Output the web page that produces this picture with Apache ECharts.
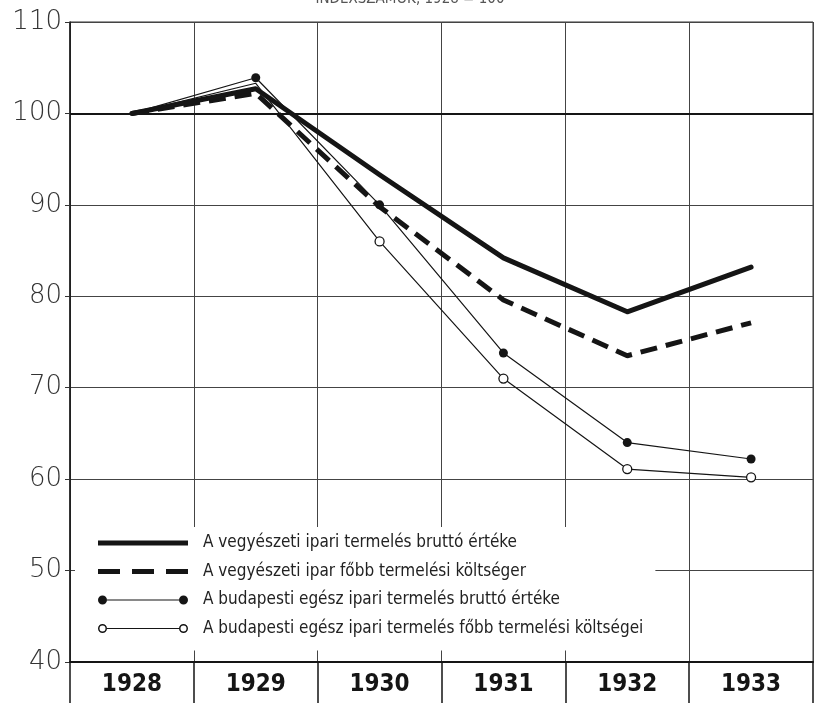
<!DOCTYPE html>
<html>
<head>
<meta charset="utf-8">
<script src="https://cdn.jsdelivr.net/npm/echarts@6/dist/echarts.min.js"></script>
<style>
  html, body { margin: 0; padding: 0; background: #fff; }
  #chart { width: 820px; height: 712px; }
</style>
</head>
<body>
<div id="chart"></div>
<script>
// ---- data ----
const titleText = 'INDEXSZÁMOK, 1928 = 100';
const years = ['1928', '1929', '1930', '1931', '1932', '1933'];
const seriesNames = [
  'A vegyészeti ipari termelés bruttó értéke',
  'A vegyészeti ipar főbb termelési költséger',
  'A budapesti egész ipari termelés bruttó értéke',
  'A budapesti egész ipari termelés főbb termelési költségei'
];
const chemGross = [100, 102.7, 93.3, 84.2, 78.3, 83.2];
const chemCosts = [100, 102.2, 89.8, 79.6, 73.5, 77.1];
const bpGross   = [100, 103.9, 90.0, 73.8, 64.0, 62.2];
const bpCosts   = [100, 103.3, 86.0, 71.0, 61.1, 60.2];
const yTicks = { min: 40, max: 110, step: 10 };

// ---- chart ----
const INK = '#151515';
const narrow = "'Liberation Sans Narrow', 'DejaVu Sans Condensed', sans-serif";

// each legend icon path spans the same 90 x 9 box
const box = 'M0,0 L0.01,0 L0.01,0.01 Z M90,9 L89.99,9 L89.99,8.99 Z ';
const solidIcon = 'path://' + box + 'M0,2 L90,2 L90,7 L0,7 Z';
const dashIcon = 'path://' + box + 'M0,2 L22,2 L22,7 L0,7 Z M34,2 L56,2 L56,7 L34,7 Z M68,2 L90,2 L90,7 L68,7 Z';
const filledIcon = 'path://' + box + 'M0,4.5 A4.5,4.5 0 1,1 9,4.5 A4.5,4.5 0 1,1 0,4.5 Z M9,3.9 L81,3.9 L81,5.1 L9,5.1 Z M81,4.5 A4.5,4.5 0 1,1 90,4.5 A4.5,4.5 0 1,1 81,4.5 Z';
const hollowIcon = 'path://' + box + 'M0,4.5 A4.5,4.5 0 1,1 9,4.5 A4.5,4.5 0 1,1 0,4.5 Z M1.5,4.5 A3,3 0 1,0 7.5,4.5 A3,3 0 1,0 1.5,4.5 Z M9,3.9 L81,3.9 L81,5.1 L9,5.1 Z M81,4.5 A4.5,4.5 0 1,1 90,4.5 A4.5,4.5 0 1,1 81,4.5 Z M82.5,4.5 A3,3 0 1,0 88.5,4.5 A3,3 0 1,0 82.5,4.5 Z';
const iconStyle = { color: INK, borderWidth: 0 };

function markers(arr, firstShown) {
  return arr.map((v, i) => i < firstShown ? { value: v, symbol: 'none' } : v);
}

const chart = echarts.init(document.getElementById('chart'), null, { renderer: 'canvas' });
chart.setOption({
  backgroundColor: '#fff',
  animation: false,
  title: {
    text: titleText,
    left: 'center',
    top: -8,
    padding: 0,
    textStyle: { fontFamily: narrow, fontSize: 15, fontWeight: 'normal', color: '#555' }
  },
  grid: {
    left: 70, right: 7, top: 22, bottom: 50,
    show: true, borderColor: '#333', borderWidth: 1, backgroundColor: 'transparent'
  },
  legend: {
    orient: 'vertical',
    left: 75,
    top: 527,
    padding: [6, 12, 12, 23],
    backgroundColor: '#fff',
    itemWidth: 90,
    itemHeight: 9,
    itemGap: 8.5,
    selectedMode: false,
    textStyle: {
      fontFamily: narrow, fontSize: 17, color: '#222',
      lineHeight: 20, padding: [0, 0, 0, 10]
    },
    data: [
      { name: seriesNames[0], icon: solidIcon, itemStyle: iconStyle },
      { name: seriesNames[1], icon: dashIcon, itemStyle: iconStyle },
      { name: seriesNames[2], icon: filledIcon, itemStyle: iconStyle },
      { name: seriesNames[3], icon: hollowIcon, itemStyle: iconStyle }
    ]
  },
  xAxis: {
    type: 'category',
    data: years,
    boundaryGap: true,
    axisLine: { show: true, lineStyle: { color: INK, width: 2 } },
    axisTick: { show: true, length: 41, lineStyle: { color: INK, width: 1.5 } },
    axisLabel: {
      margin: 11, fontFamily: narrow, fontWeight: 'bold', fontSize: 24, color: INK
    },
    splitLine: { show: true, lineStyle: { color: '#444', width: 1 } }
  },
  yAxis: {
    type: 'value',
    min: yTicks.min, max: yTicks.max, interval: yTicks.step,
    axisLine: { show: true, lineStyle: { color: INK, width: 1.5 } },
    axisTick: { show: true, length: 5, lineStyle: { color: '#333' } },
    axisLabel: {
      margin: 8, fontFamily: "'DejaVu Sans', sans-serif", fontWeight: 200,
      fontSize: 26, color: '#333'
    },
    splitLine: { show: true, lineStyle: { color: '#444', width: 1 } }
  },
  series: [
    {
      name: seriesNames[0], type: 'line', data: chemGross,
      symbol: 'none', z: 5,
      lineStyle: { color: INK, width: 5, cap: 'round', join: 'round' },
      itemStyle: { color: INK },
      markLine: {
        silent: true, symbol: 'none', label: { show: false },
        lineStyle: { color: INK, width: 2, type: 'solid' },
        data: [{ yAxis: 100 }]
      }
    },
    {
      name: seriesNames[1], type: 'line', data: chemCosts,
      symbol: 'none', z: 4,
      lineStyle: { color: INK, width: 5, type: [17, 9] },
      itemStyle: { color: INK }
    },
    {
      name: seriesNames[2], type: 'line', data: markers(bpGross, 1),
      symbol: 'circle', symbolSize: 9, z: 6,
      lineStyle: { color: INK, width: 1.2 },
      itemStyle: { color: INK }
    },
    {
      name: seriesNames[3], type: 'line', data: markers(bpCosts, 2),
      symbol: 'circle', symbolSize: 9, z: 6,
      lineStyle: { color: INK, width: 1.2 },
      itemStyle: { color: '#fff', borderColor: INK, borderWidth: 1.3 }
    }
  ]
});
</script>
</body>
</html>
